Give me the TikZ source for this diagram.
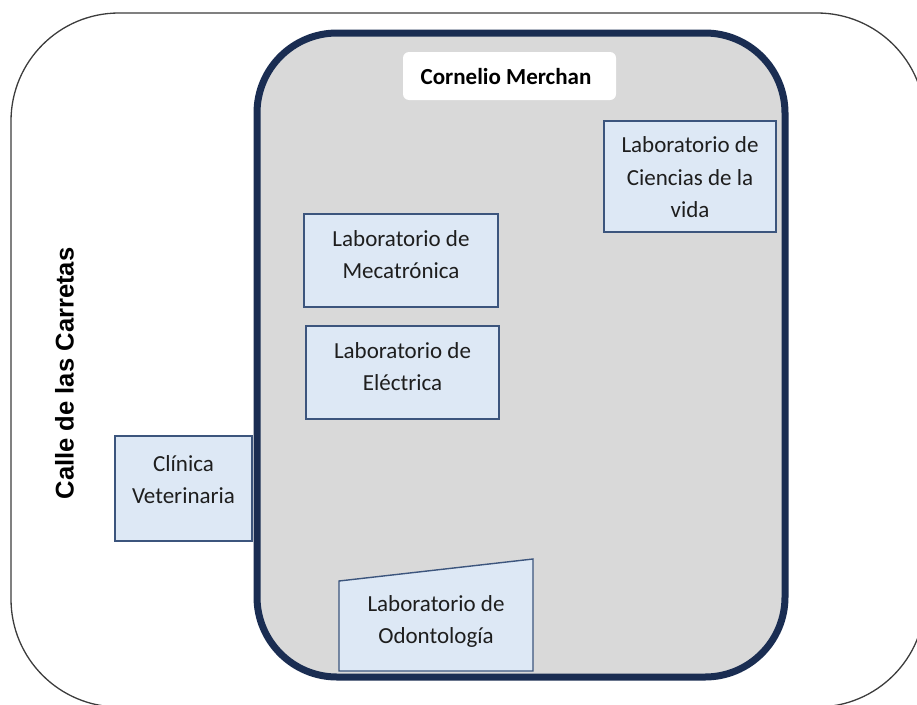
\documentclass[tikz,border=0pt]{standalone}
\usepackage{fontspec}
\setmainfont{Carlito}
\newfontfamily\streetfont{Liberation Sans}
\definecolor{navy}{RGB}{26,45,82}
\definecolor{boxfill}{RGB}{221,232,245}
\definecolor{boxline}{RGB}{60,85,125}
\definecolor{campus}{RGB}{217,217,217}
\definecolor{outerline}{RGB}{60,60,60}
\definecolor{txt}{RGB}{30,30,30}
\tikzset{
  labbox/.style={draw=boxline, line width=1.4pt, fill=boxfill, inner sep=0pt},
  lbl/.style={text=txt, align=center, inner sep=0pt, font=\fontsize{23}{32.5}\selectfont},
}
\begin{document}
\begin{tikzpicture}[x=1pt,y=-1pt]
\useasboundingbox (0,0) rectangle (917,704);
\begin{scope}
\clip (0,0) rectangle (917,704);
% outer street boundary
\draw[outerline, line width=1.3pt, rounded corners=108pt] (11,13) rectangle (925,707);
\end{scope}
% campus
\draw[navy, line width=7pt, fill=campus, rounded corners=80pt] (257,33) rectangle (785,677);
% title
\node[fill=white, rounded corners=6pt, minimum width=213pt, minimum height=48pt, inner sep=0pt] (title) at (509.5,76) {};
\node[text=black, inner sep=0pt, font=\bfseries\fontsize{23}{26}\selectfont] (titlet) at (506,77) {Cornelio Merchan};
% street name
\node[rotate=90, inner sep=0pt, text=black, font=\streetfont\bfseries\fontsize{25.6}{28}\selectfont] (street) at (64.5,373.5) {Calle de las Carretas};
% Mecatronica
\node[labbox, minimum width=194pt, minimum height=93pt] (meca) at (401,260.5) {};
\node[lbl] (mecat) at (401,254.5) {Laboratorio de\\Mecatrónica};
% Electrica
\node[labbox, minimum width=193pt, minimum height=93pt] (elec) at (402.5,372.5) {};
\node[lbl] (elect) at (402.5,366.5) {Laboratorio de\\Eléctrica};
% Ciencias de la vida
\node[labbox, minimum width=172pt, minimum height=111pt] (cien) at (690,176.5) {};
\node[lbl] (cient) at (690,177.5) {Laboratorio de\\Ciencias de la\\vida};
% Clinica Veterinaria
\node[labbox, minimum width=137pt, minimum height=105pt] (clin) at (183.5,488.5) {};
\node[lbl] (clint) at (183.5,479.5) {Clínica\\Veterinaria};
% Odontologia
\draw[labbox] (339,671) coordinate (odA) -- (339,581) coordinate (odB) -- (533,559) coordinate (odC) -- (533,671) coordinate (odD) -- cycle;
\node[lbl] (odont) at (436,621.5) {Laboratorio de\\Odontología};
\end{tikzpicture}
\end{document}
